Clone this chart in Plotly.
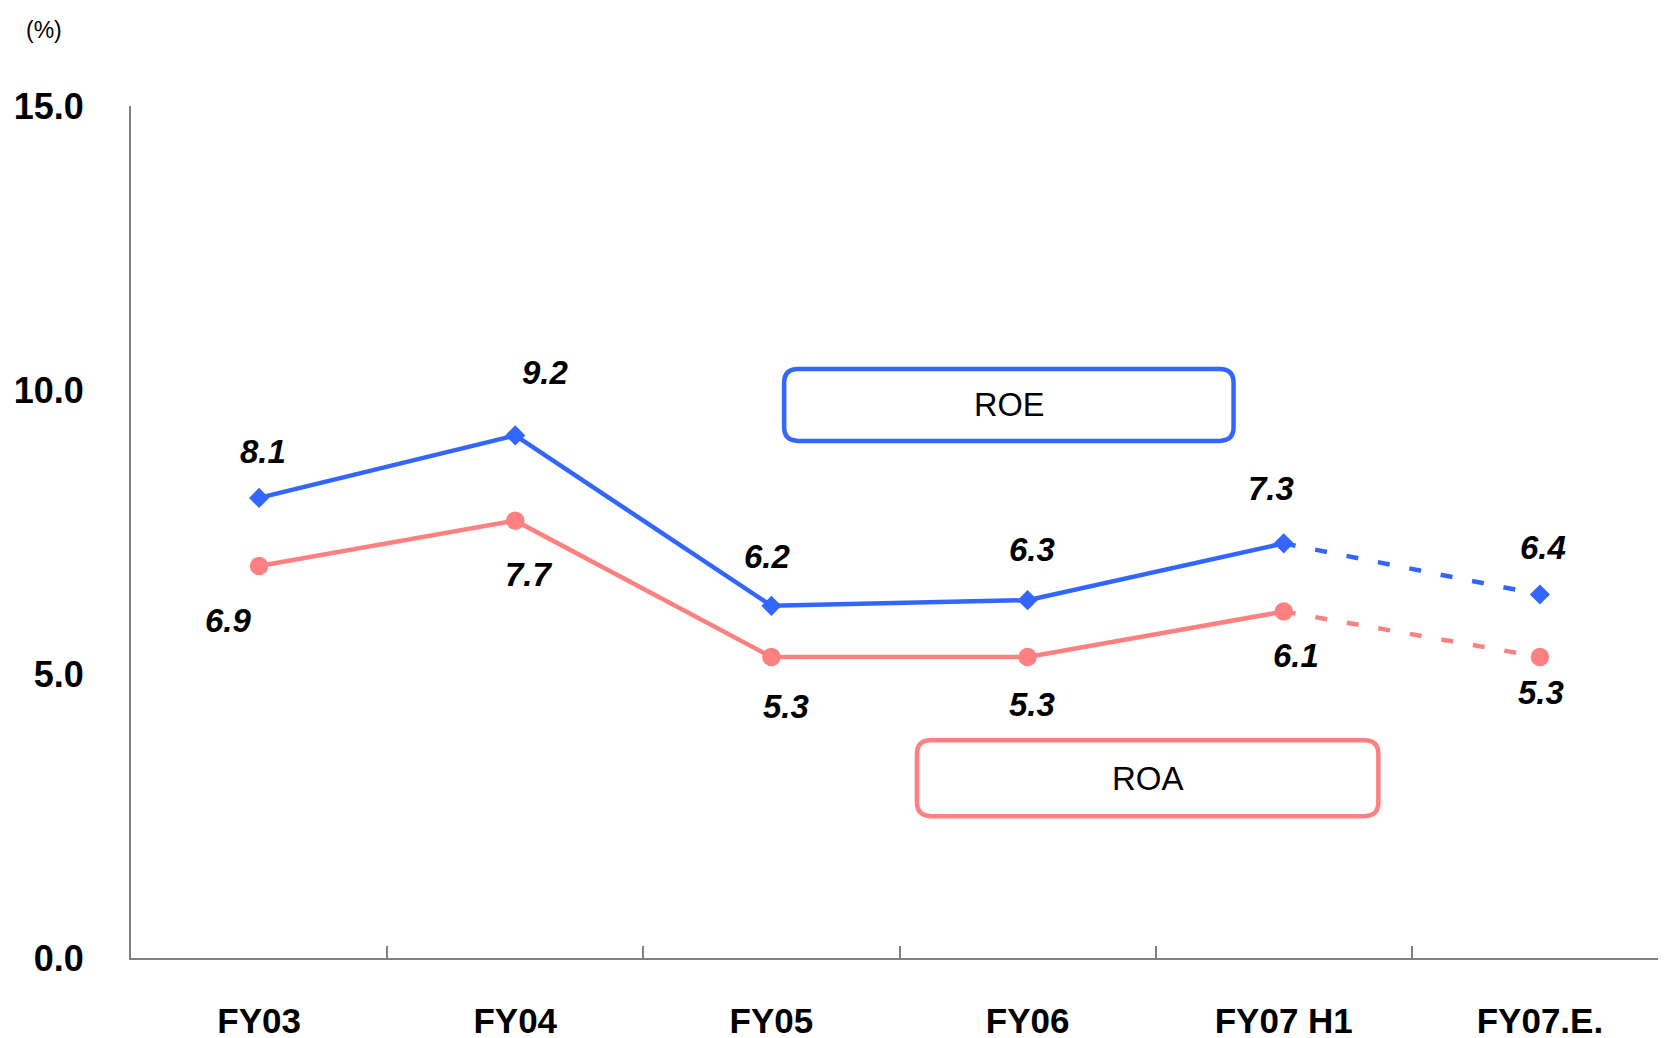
import plotly.graph_objects as go

# ---- data ----
categories = ["FY03", "FY04", "FY05", "FY06", "FY07 H1", "FY07.E."]
roe = [8.1, 9.2, 6.2, 6.3, 7.3, 6.4]
roa = [6.9, 7.7, 5.3, 5.3, 6.1, 5.3]
y_tickvals = [0, 5, 10, 15]
y_ticktext = ["0.0", "5.0", "10.0", "15.0"]
unit_label = "(%)"
series_names = ["ROE", "ROA"]

# ---- styles ----
BLUE = "#3366FF"
PINK = "#FF8080"
AXIS = "#808080"
FONT = "Liberation Sans"
n_actual = 5  # solid up to FY07 H1, then dashed to estimate

W, H = 1666, 1038
L, R, T, B = 121, 6, 98, 75
PW, PH = W - L - R, H - T - B
PBOT = H - B

# label pixel offsets (dx, dy up)
roe_off = [(4, 46), (30, 63), (-4, 49), (4, 51), (-13, 55), (3, 47)]
roa_off = [(-31, -54), (14, -54), (15, -50), (4, -48), (12, -44), (1, -36)]

fig = go.Figure()

for vals, col, sym, msize in [(roe, BLUE, "diamond", 15.5), (roa, PINK, "circle", 18.5)]:
    fig.add_trace(go.Scatter(
        x=categories[n_actual - 1:], y=vals[n_actual - 1:], mode="lines",
        line=dict(color=col, width=4.5, dash="12px,20px"),
        hoverinfo="skip", showlegend=False))
    fig.add_trace(go.Scatter(
        x=categories[:n_actual], y=vals[:n_actual], mode="lines",
        line=dict(color=col, width=4.5), showlegend=False))
    fig.add_trace(go.Scatter(
        x=categories, y=vals, mode="markers",
        marker=dict(symbol=sym, size=msize, color=col, line=dict(width=0)),
        showlegend=False))


def px_to_paper(X, Y):
    return (X - L) / PW, (PBOT - Y) / PH


label_font = dict(family=FONT, size=33, color="#000000", weight="bold", style="italic")
annotations = []
for vals, offs in [(roe, roe_off), (roa, roa_off)]:
    for c, v, (dx, dy) in zip(categories, vals, offs):
        annotations.append(dict(
            x=c, y=v, xref="x", yref="y", text=f"{v:.1f}", showarrow=False,
            xshift=dx, yshift=dy, font=label_font))

ux, uy = px_to_paper(34, 21)
annotations.append(dict(
    x=ux, y=uy, xref="paper", yref="paper",
    xanchor="center", yanchor="middle", text=unit_label,
    showarrow=False, font=dict(family=FONT, size=23, color="#000000")))


def rounded_box(x0, y0, x1, y1, rx, ry):
    return (f"M {x0 + rx},{y0} L {x1 - rx},{y0} Q {x1},{y0} {x1},{y0 + ry} "
            f"L {x1},{y1 - ry} Q {x1},{y1} {x1 - rx},{y1} "
            f"L {x0 + rx},{y1} Q {x0},{y1} {x0},{y1 - ry} "
            f"L {x0},{y0 + ry} Q {x0},{y0} {x0 + rx},{y0} Z")


rx, ry = 14 / PW, 14 / PH
boxes = [
    (series_names[0], BLUE, (773, 363, 1227, 440), 32.5),
    (series_names[1], PINK, (906, 740, 1372, 821), 33),
]
shapes = []
for name, col, (px0, py0, px1, py1), fs in boxes:
    x0, y1 = px_to_paper(px0 + 2, py0 + 2)
    x1, y0 = px_to_paper(px1 - 2, py1 - 2)
    shapes.append(dict(type="path", xref="paper", yref="paper",
                       path=rounded_box(x0, y0, x1, y1, rx, ry),
                       line=dict(color=col, width=4.5), fillcolor="rgba(0,0,0,0)",
                       layer="below"))
    annotations.append(dict(x=(x0 + x1) / 2, y=(y0 + y1) / 2, xref="paper", yref="paper",
                            xanchor="center", yanchor="middle",
                            text=name, showarrow=False,
                            font=dict(family=FONT, size=fs, color="#000000")))

fig.update_layout(
    width=W, height=H,
    margin=dict(l=L, r=R, t=T, b=B),
    paper_bgcolor="white", plot_bgcolor="white",
    showlegend=False,
    annotations=annotations, shapes=shapes,
    xaxis=dict(
        type="category", categoryorder="array", categoryarray=categories,
        range=[-0.5, 5.5], showgrid=False, zeroline=False,
        showline=True, linecolor=AXIS, linewidth=2,
        ticks="inside", tickson="boundaries", ticklen=12, tickcolor=AXIS, tickwidth=2,
        ticklabelstandoff=31,
        tickfont=dict(family=FONT, size=35, color="#000000", weight="bold"),
    ),
    yaxis=dict(
        range=[0, 15], tickvals=y_tickvals, ticktext=y_ticktext,
        showgrid=False, zeroline=False,
        showline=True, linecolor=AXIS, linewidth=2, ticks="",
        ticklabelstandoff=38,
        tickfont=dict(family=FONT, size=36, color="#000000", weight="bold"),
    ),
)

fig.write_html("out.html")
